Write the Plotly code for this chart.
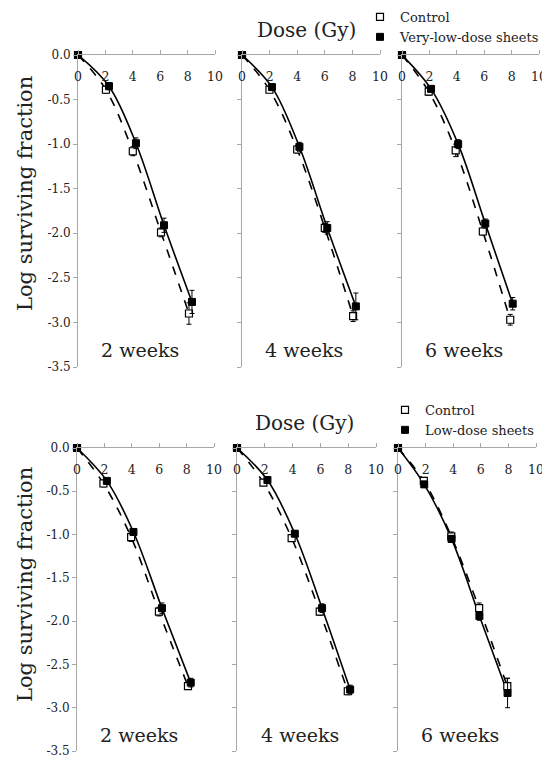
import plotly.graph_objects as go

FONT = "DejaVu Serif"
WIN_W, WIN_H = 550, 761
PAGE_OFF = 8  # default body margin of the HTML page
W, H = WIN_W - PAGE_OFF, WIN_H - PAGE_OFF

WEEKS = ["2 weeks", "4 weeks", "6 weeks"]
DOSE_TICKS = [0, 2, 4, 6, 8, 10]
LOG_TICKS = [0.0, -0.5, -1.0, -1.5, -2.0, -2.5, -3.0, -3.5]
LOG_TICK_TEXT = ["0.0", "-0.5", "-1.0", "-1.5", "-2.0", "-2.5", "-3.0", "-3.5"]

# ---- Top row: Control vs Very-low-dose sheets (2, 4, 6 weeks) ----
VL_CTRL_X = [[0, 2.04, 4.00, 6.06, 8.10],
             [0, 1.99, 4.00, 6.00, 8.05],
             [0, 1.95, 3.92, 5.90, 7.90]]
VL_CTRL_Y = [[0, -0.39, -1.08, -1.99, -2.90],
             [0, -0.39, -1.06, -1.94, -2.93],
             [0, -0.41, -1.07, -1.98, -2.97]]
VL_CTRL_ERR = [[0, 0.04, 0.05, 0.05, 0.12],
               [0, 0.03, 0.04, 0.05, 0.06],
               [0, 0.04, 0.07, 0.04, 0.06]]
VL_TRT_X = [[0, 2.26, 4.23, 6.28, 8.32],
            [0, 2.17, 4.16, 6.18, 8.25],
            [0, 2.12, 4.10, 6.08, 8.08]]
VL_TRT_Y = [[0, -0.35, -0.99, -1.91, -2.77],
            [0, -0.36, -1.03, -1.94, -2.82],
            [0, -0.38, -1.00, -1.89, -2.79]]
VL_TRT_ERR = [[0, 0.04, 0.06, 0.08, 0.13],
              [0, 0.03, 0.05, 0.07, 0.15],
              [0, 0.03, 0.05, 0.05, 0.07]]

# ---- Bottom row: Control vs Low-dose sheets (2, 4, 6 weeks) ----
LD_CTRL_X = [[0, 1.93, 3.95, 5.98, 8.10],
             [0, 1.90, 3.93, 5.95, 7.97],
             [0, 1.87, 3.86, 5.88, 7.92]]
LD_CTRL_Y = [[0, -0.41, -1.03, -1.89, -2.75],
             [0, -0.40, -1.04, -1.89, -2.81],
             [0, -0.38, -1.02, -1.85, -2.75]]
LD_CTRL_ERR = [[0, 0.04, 0.05, 0.05, 0.04],
               [0, 0.03, 0.04, 0.04, 0.04],
               [0, 0.04, 0.05, 0.06, 0.09]]
LD_TRT_X = [[0, 2.18, 4.12, 6.20, 8.30],
            [0, 2.19, 4.16, 6.12, 8.14],
            [0, 1.90, 3.88, 5.90, 7.94]]
LD_TRT_Y = [[0, -0.38, -0.97, -1.85, -2.71],
            [0, -0.37, -0.99, -1.85, -2.79],
            [0, -0.42, -1.05, -1.94, -2.83]]
LD_TRT_ERR = [[0, 0.03, 0.04, 0.06, 0.05],
              [0, 0.03, 0.03, 0.05, 0.05],
              [0, 0.03, 0.04, 0.05, 0.17]]

ROWS = [
    dict(cx=VL_CTRL_X, cy=VL_CTRL_Y, ce=VL_CTRL_ERR, tx=VL_TRT_X, ty=VL_TRT_Y, te=VL_TRT_ERR,
         trt_name="Very-low-dose sheets", legend="legend"),
    dict(cx=LD_CTRL_X, cy=LD_CTRL_Y, ce=LD_CTRL_ERR, tx=LD_TRT_X, ty=LD_TRT_Y, te=LD_TRT_ERR,
         trt_name="Low-dose sheets", legend="legend2"),
]

# layout in window pixels (x domains per row, y domains per row)
X_PX = [[(78, 215), (242, 380), (402, 539)],
        [(77, 214), (237, 376), (398, 536)]]
Y_PX = [(55, 367), (448, 751)]


def px(xw):
    return (xw - PAGE_OFF) / W


def py(yw):
    return 1 - (yw - PAGE_OFF) / H


AXIS_GRAY = "#a8a8a8"
TEXT = "#222222"

fig = go.Figure()
layout = {}
annotations = []

for r, row in enumerate(ROWS):
    for c in range(3):
        i = r * 3 + c + 1
        li = i + 6  # label-only overlay axis
        xa = "x" if i == 1 else f"x{i}"
        ya = "y" if i == 1 else f"y{i}"
        xk = "xaxis" if i == 1 else f"xaxis{i}"
        yk = "yaxis" if i == 1 else f"yaxis{i}"
        x0, x1 = X_PX[r][c]
        y0, y1 = Y_PX[r]
        layout[xk] = dict(
            domain=[px(x0), px(x1)], range=[0, 10], side="top", anchor=ya,
            showline=True, linecolor=AXIS_GRAY, linewidth=1,
            ticks="outside", ticklen=4, tickcolor=AXIS_GRAY,
            tickvals=DOSE_TICKS, showticklabels=False,
            showgrid=False, zeroline=False,
        )
        # dose tick labels drawn just below the top axis line
        layout[f"xaxis{li}"] = dict(
            overlaying=xa, anchor="free", position=py(y0 + 12),
            side="bottom", range=[0, 10], tickvals=DOSE_TICKS,
            showline=False, ticks="", showgrid=False, zeroline=False,
            tickfont=dict(family=FONT, size=12.5, color=TEXT),
        )
        layout[yk] = dict(
            domain=[py(y1), py(y0)], range=[-3.5, 0], anchor=xa,
            showline=True, linecolor=AXIS_GRAY, linewidth=1,
            ticks="outside", ticklen=4, tickcolor=AXIS_GRAY,
            tickvals=LOG_TICKS, ticktext=LOG_TICK_TEXT,
            showticklabels=(c == 0),
            tickfont=dict(family=FONT, size=12, color=TEXT),
            showgrid=False, zeroline=False,
        )
        fig.add_trace(go.Scatter(x=[None], y=[None], xaxis=f"x{li}", yaxis=ya,
                                 showlegend=False, hoverinfo="skip"))
        # smooth survival curves through the points
        fig.add_trace(go.Scatter(
            x=row["cx"][c], y=row["cy"][c], mode="lines", xaxis=xa, yaxis=ya,
            line=dict(color="black", width=1.6, dash="dash", shape="spline"),
            showlegend=False, hoverinfo="skip", cliponaxis=False))
        fig.add_trace(go.Scatter(
            x=row["tx"][c], y=row["ty"][c], mode="lines", xaxis=xa, yaxis=ya,
            line=dict(color="black", width=1.6, shape="spline"),
            showlegend=False, hoverinfo="skip", cliponaxis=False))
        # data points
        fig.add_trace(go.Scatter(
            x=row["cx"][c], y=row["cy"][c], mode="markers", xaxis=xa, yaxis=ya,
            name="Control", legend=row["legend"], showlegend=(c == 0),
            marker=dict(symbol="square", size=7, color="white",
                        line=dict(color="black", width=1.2)),
            error_y=dict(type="data", array=row["ce"][c], color="black",
                         thickness=1, width=2.5),
            cliponaxis=False))
        fig.add_trace(go.Scatter(
            x=row["tx"][c], y=row["ty"][c], mode="markers", xaxis=xa, yaxis=ya,
            name=row["trt_name"], legend=row["legend"], showlegend=(c == 0),
            marker=dict(symbol="square", size=7, color="black",
                        line=dict(color="black", width=1)),
            error_y=dict(type="data", array=row["te"][c], color="black",
                         thickness=1, width=2.5),
            cliponaxis=False))
        annotations.append(dict(
            text=WEEKS[c], x=4.5, y=-3.31, xref=xa, yref=ya, showarrow=False,
            xanchor="center", yanchor="middle",
            font=dict(family=FONT, size=19, color=TEXT)))

# Row titles and axis titles
for (dx, dy) in [(306, 30), (304, 423)]:
    annotations.append(dict(text="Dose (Gy)", x=px(dx), y=py(dy), xref="paper", yref="paper",
                            xanchor="center", yanchor="middle", showarrow=False,
                            font=dict(family=FONT, size=20, color=TEXT)))
for dy in [194, 585]:
    annotations.append(dict(text="Log surviving fraction", x=px(25), y=py(dy),
                            xref="paper", yref="paper", textangle=-90, showarrow=False,
                            xanchor="center", yanchor="middle",
                            font=dict(family=FONT, size=21, color=TEXT)))

legend_common = dict(xanchor="left", yanchor="top", bgcolor="rgba(0,0,0,0)",
                     font=dict(family=FONT, size=13, color=TEXT),
                     itemwidth=30, tracegroupgap=0)
layout["legend"] = dict(x=px(360), y=py(2), **legend_common)
layout["legend2"] = dict(x=px(385), y=py(395), **legend_common)

fig.update_layout(
    width=W, height=H, margin=dict(l=0, r=0, t=0, b=0, autoexpand=False),
    paper_bgcolor="white", plot_bgcolor="white",
    annotations=annotations, showlegend=True, **layout,
)

fig.write_html("out.html")
